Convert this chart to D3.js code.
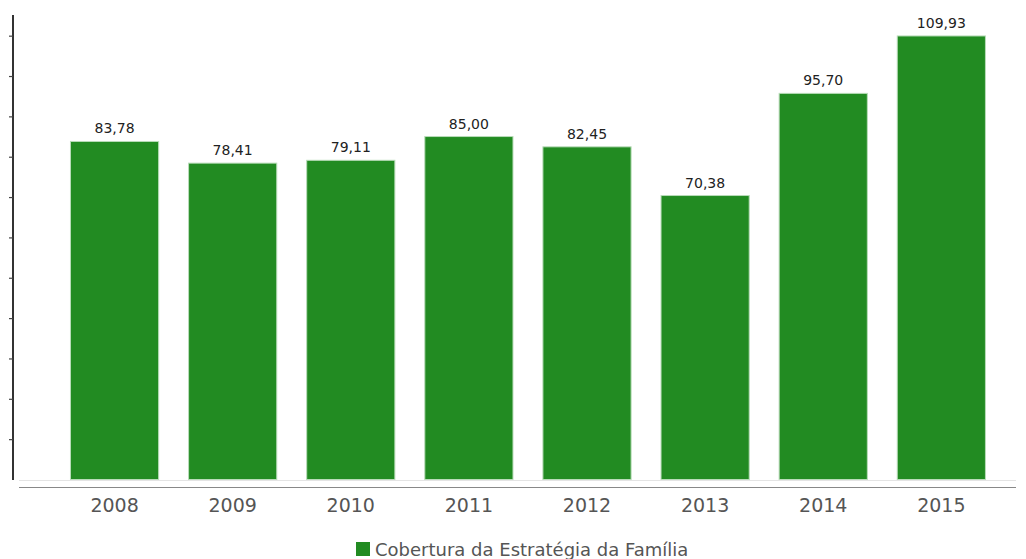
<!DOCTYPE html>
<html><head><meta charset="utf-8">
<script src="https://cdn.jsdelivr.net/npm/d3@7"></script>
<style>body{margin:0;background:#fff;}svg{display:block;font-family:"DejaVu Sans",Verdana,sans-serif;}</style>
</head><body>
<svg id="c" width="1026" height="559"></svg>
<script>
const categories = ["2008","2009","2010","2011","2012","2013","2014","2015"];
const values = [83.78, 78.41, 79.11, 85.00, 82.45, 70.38, 95.70, 109.93];
const labels = ["83,78","78,41","79,11","85,00","82,45","70,38","95,70","109,93"];
const yTicks = [10,20,30,40,50,60,70,80,90,100,110];
const seriesName = "Cobertura da Estratégia da Família";

const svg = d3.select("#c");
const y = d3.scaleLinear().domain([0,115]).range([479.5, 15.5]);
const x = d3.scaleBand().domain(categories).range([55.5, 1000.4]).paddingInner(0.245).paddingOuter(0.1225);

// baseline faint line
svg.append("line").attr("x1",19).attr("x2",1016).attr("y1",480.5).attr("y2",480.5).attr("stroke","#e4e4e4");

// bars
svg.selectAll("rect.bar").data(values).enter().append("rect")
  .attr("x",(d,i)=>x(categories[i])+0.5).attr("width",x.bandwidth()-1)
  .attr("y",d=>y(d)).attr("height",d=>y(0)-y(d))
  .attr("fill","#228b22").attr("stroke","#b9dcb9").attr("stroke-width",1);

// value labels
svg.selectAll("text.val").data(values).enter().append("text")
  .attr("x",(d,i)=>x(categories[i])+x.bandwidth()/2).attr("y",d=>y(d)-8)
  .attr("text-anchor","middle").attr("font-size",14).attr("fill","#222")
  .text((d,i)=>labels[i]);

// y axis
const yAxis = d3.axisLeft(y).tickValues(yTicks).tickSize(4).tickFormat("");
const gy = svg.append("g").attr("transform","translate(13,0)").call(yAxis);
gy.select(".domain").attr("stroke","#333").attr("stroke-width",2).attr("d","M0,15V480");
gy.selectAll(".tick line").attr("stroke","#444").attr("stroke-width",1.2);

// x axis
const xAxis = d3.axisBottom(x).tickSize(0).tickPadding(0);
const gx = svg.append("g").attr("transform","translate(0,487.5)").call(xAxis);
gx.select(".domain").attr("stroke","#888").attr("stroke-width",1).attr("d","M19,0H1016");
gx.selectAll(".tick text").attr("dy",null).attr("y",24.5).attr("font-size",19).attr("fill","#555").attr("font-family","DejaVu Sans, Verdana, sans-serif");

// legend
const lg = svg.append("g");
lg.append("rect").attr("x",356).attr("y",542).attr("width",14).attr("height",14).attr("fill","#228b22");
lg.append("text").attr("x",375).attr("y",556).attr("font-size",18).attr("fill","#555").text(seriesName);
</script>
</body></html>
